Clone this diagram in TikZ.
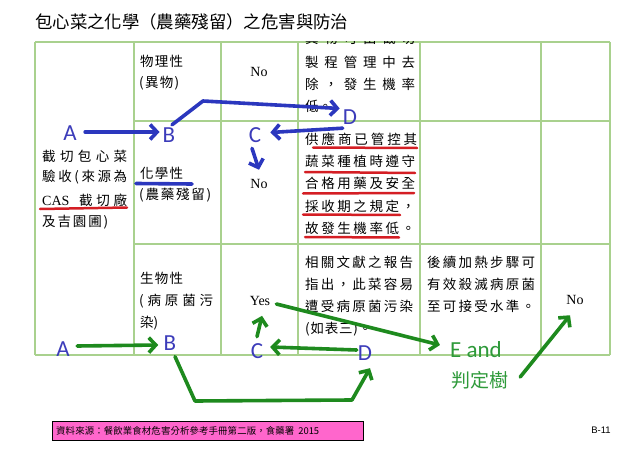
\documentclass[tikz,border=0pt]{standalone}
\usepackage{fontspec}
\setmainfont{Liberation Serif}
\newfontfamily\cjk{Noto Sans CJK TC}
\newfontfamily\cali{Carlito}
\newfontfamily\arialf{Liberation Sans}
\usetikzlibrary{arrows.meta,calc}
\makeatletter
\def\jl@first#1{\ifx\relax#1\else#1\expandafter\jl@next\fi}
\def\jl@next#1{\ifx\relax#1\else\hfil#1\expandafter\jl@next\fi}
\newcommand\jl[2]{\makebox[#1pt][s]{\jl@first#2\relax}}
\newcommand\jlin[1]{\jl@first#1\relax}
\makeatother
\definecolor{gridc}{HTML}{A9D18E}
\definecolor{penblue}{HTML}{2B37BE}
\definecolor{letblue}{HTML}{3C3CBA}
\definecolor{pengreen}{HTML}{1E8A1E}
\definecolor{txtgreen}{HTML}{2E9A3A}
\definecolor{penred}{HTML}{D41E24}
\definecolor{pinkbox}{HTML}{FF66CC}
\tikzset{
  grid/.style={draw=gridc, line width=1.2pt},
  cell/.style={anchor=west, inner sep=0pt, font=\cjk\fontsize{13.5}{15}\selectfont},
  lat/.style={inner sep=0pt, font=\fontsize{14}{15}\selectfont},
  letter/.style={inner sep=0pt, text=letblue, font=\cali\fontsize{23}{23}\selectfont},
  bpen/.style={draw=penblue, line width=3.6pt, line cap=round, line join=round},
  gpen/.style={draw=pengreen, line width=3.6pt, line cap=round, line join=round},
  rpen/.style={draw=penred, line width=2.5pt, line cap=round},
  tip/.style={-{Straight Barb[length=7pt,width=15pt]}},
}
\begin{document}
\begin{tikzpicture}[x=1pt,y=-1pt]
\useasboundingbox (0,0) rectangle (638,452);
\fill[white] (0,0) rectangle (638,452);

% title
\node[anchor=west, inner sep=0pt, font=\cjk\fontsize{17.4}{18}\selectfont] (title) at (35,22) {包心菜之化學（農藥殘留）之危害與防治};

% table grid
\draw[grid] (35,42) -- (610,42);
\draw[grid] (134,121) -- (610,121);
\draw[grid] (134,244) -- (610,244);
\draw[grid] (35,355) -- (610,355);
\foreach \xx in {35,134,221,298,420,541,610} \draw[grid] (\xx,42) -- (\xx,355);

% column 1
\node[cell] (c1a) at (42,156) {\jl{85}{截切包心菜}};
\node[cell] (c1b) at (42,177) {\jl{85}{驗收(來源為}};
\node[cell] (c1c) at (42,200) {\makebox[85pt][s]{{\rmfamily\fontsize{14}{15}\selectfont CAS}\hspace{6pt}\hfil 截\hfil 切\hfil 廠}};
\node[cell] (c1d) at (42,222) {\jl{66}{及吉園圃)}};

% column 2
\node[cell] (p1) at (140,61) {\jl{43}{物理性}};
\node[cell] (p2) at (139,83) {\jl{40}{(異物)}};
\node[cell] (h1) at (140,173) {\jl{43}{化學性}};
\node[cell] (h2) at (139,195) {\jl{72}{(農藥殘留)}};
\node[cell] (s1) at (140,278) {\jl{43}{生物性}};
\node[cell] (s2) at (139,301) {\jl{74}{(病原菌污}};
\node[cell] (s3) at (140,323) {染)};

% column 3
\node[lat] (N1) at (259,72) {No};
\node[lat] (N2) at (259,184) {No};
\node[lat] (Y3) at (260,301) {Yes};

% column 4
\begin{scope}
\clip (298,42) rectangle (420,121);
\node[cell] (d0) at (305,38.5) {\jl{110}{異物可由截切}};
\end{scope}
\node[cell] (d1) at (305,62) {\jl{110}{製程管理中去}};
\node[cell] (d2) at (305,84) {\jl{110}{除，發生機率}};
\node[cell] (d3) at (305,106) {低。};
\node[cell] (e1) at (305,139) {\jl{112}{供應商已管控其}};
\node[cell] (e2) at (305,161) {\jl{110}{蔬菜種植時遵守}};
\node[cell] (e3) at (305,183) {\jl{110}{合格用藥及安全}};
\node[cell] (e4) at (305,206) {\jl{110}{採收期之規定，}};
\node[cell] (e5) at (305,228) {\jl{110}{故發生機率低。}};
\node[cell] (f1) at (305,262) {\jl{108}{相關文獻之報告}};
\node[cell] (f2) at (305,284) {\jl{108}{指出，此菜容易}};
\node[cell] (f3) at (305,306) {\jl{108}{遭受病原菌污染}};
\node[cell] (f4) at (305,329) {\jl{67}{(如表三)。}};

% column 5
\node[cell] (g1) at (427,262) {\jl{108}{後續加熱步驟可}};
\node[cell] (g2) at (427,284) {\jl{108}{有效殺滅病原菌}};
\node[cell] (g3) at (427,306) {\jl{108}{至可接受水準。}};

% column 6
\node[lat] (N6) at (575,300) {No};

% red underlines
\draw[rpen] (40,209) -- (127,207.5);
\draw[rpen] (313,147.5) -- (417,148);
\draw[rpen] (305,172) -- (415,173);
\draw[rpen] (303,193.5) -- (414,193);
\draw[rpen] (303,214.5) -- (400,215);
\draw[rpen] (305,237) -- (399,237.5);

% blue annotations (row 2)
\draw[bpen] (136,183.5) -- (192,184);
\node[letter] (A2) at (70,133) {A};
\node[letter] (B2) at (169,135) {B};
\node[letter] (C2) at (255,135) {C};
\node[letter] (D2) at (350,117) {D};
\coordinate (bw) at (203,101);
\draw[bpen,tip] ($(A2.east)+(8.3,-1)$) -- ($(B2.west)+(-3,-3)$);
\draw[bpen,tip] ($(B2.north)+(3,-2.6)$) -- (bw) -- ($(D2.west)+(-3,-8.5)$);
\draw[bpen,tip] ($(D2.south west)+(0,3.6)$) -- ($(C2.east)+(9,-2.5)$);
\draw[bpen,tip] ($(C2.south)+(-3,5.6)$) -- ($(N2.north)+(0,-9.4)$);

% green annotations (row 3)
\node[letter] (A3) at (63,349) {A};
\node[letter] (B3) at (170,343) {B};
\node[letter] (C3) at (257,351) {C};
\node[letter] (D3) at (365,353) {D};
\node[inner sep=0pt, text=txtgreen, font=\cali\fontsize{23}{23}\selectfont] (E) at (476,350) {E and};
\node[inner sep=0pt, text=txtgreen, font=\cjk\fontsize{19}{20}\selectfont] (J) at (480,380) {判定樹};
\coordinate (gw1) at (195,401);
\coordinate (gw2) at (352,400);
\draw[gpen,tip] ($(A3.east)+(7.3,-3)$) -- ($(B3.west)+(-5.3,2)$);
\draw[gpen,tip] ($(B3.south)+(5,6)$) -- (gw1) -- (gw2) -- ($(D3.south)+(5,7.6)$);
\draw[gpen,tip] ($(D3.west)+(-1,-3)$) -- ($(C3.east)+(6.8,-4)$);
\draw[gpen,tip] ($(C3.north)+(0,-6.6)$) -- ($(Y3.south)+(2,10)$);
\draw[gpen,tip] ($(Y3.east)+(6,3)$) -- ($(E.west)+(-10,-5)$);
\draw[gpen,tip] ($(J.east)+(11.5,-3)$) -- ($(N6.south)+(-5,10.4)$);

% footer
\node[draw=black, line width=0.8pt, fill=pinkbox, anchor=west, minimum width=311pt, minimum height=19pt, inner sep=0pt] (src) at (52,430.5) {};
\node[anchor=west, inner sep=0pt, font=\cjk\fontsize{9.4}{10}\selectfont] (srct) at (56,430.5) {\makebox[263pt][s]{\jlin{資料來源：餐飲業食材危害分析參考手冊第二版，食藥署}\hspace{4pt}2015}};
\node[inner sep=0pt, font=\arialf\fontsize{9.5}{10}\selectfont] (pg) at (601,430) {B-11};
\end{tikzpicture}
\end{document}
